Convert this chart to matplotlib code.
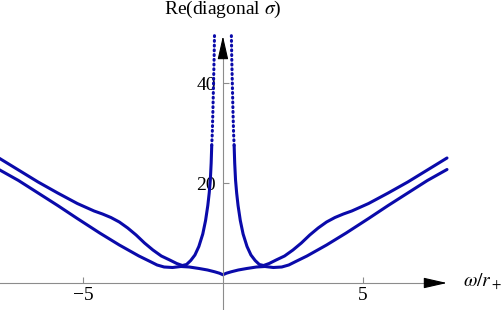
"""
Re(diagonal sigma) versus omega / r_+
"""
import matplotlib
matplotlib.use('Agg')
import matplotlib.pyplot as plt

plt.rcParams['font.family'] = ['Liberation Serif', 'DejaVu Serif']
plt.rcParams['mathtext.fontset'] = 'stix'

# upper curve (with the central peak), left and right branches
a_left_x = [-8.0, -7.3, -6.6, -5.9, -5.2, -4.6, -4.3, -4.0, -3.7, -3.4, -3.1,
            -2.8, -2.5, -2.2, -1.9, -1.65, -1.45, -1.3, -1.15, -1.0, -0.86,
            -0.72, -0.62, -0.54, -0.49, -0.45, -0.42, -0.40]
a_left_y = [25.0, 22.6, 20.2, 18.0, 15.9, 14.4, 13.8, 13.1, 12.2, 11.0, 9.6,
            8.0, 6.6, 5.4, 4.6, 3.9, 3.5, 3.7, 4.5, 5.6, 7.3,
            9.8, 12.5, 15.5, 18.0, 20.6, 24.0, 27.5]
a_right_x = [0.40, 0.42, 0.45, 0.49, 0.54, 0.62, 0.72, 0.86, 1.0, 1.15, 1.3,
             1.45, 1.65, 1.9, 2.2, 2.5, 2.8, 3.1, 3.4, 3.7, 4.0, 4.3, 4.6,
             5.2, 5.9, 6.6, 7.3, 8.0]
a_right_y = [27.5, 24.0, 20.6, 18.0, 15.5, 12.5, 9.8, 7.3, 5.6, 4.5, 3.7,
             3.5, 3.9, 4.6, 5.4, 6.6, 8.0, 9.6, 11.0, 12.2, 13.1, 13.8, 14.4,
             15.9, 18.0, 20.2, 22.6, 25.0]

# top of the peak, sparsely sampled (drawn dotted)
peak_left_x = [-0.40, -0.38, -0.36, -0.335, -0.315, -0.30]
peak_left_y = [27.5, 30.0, 34.0, 40.0, 45.0, 50.0]
peak_right_x = [0.40, 0.38, 0.36, 0.335, 0.315, 0.30]
peak_right_y = [27.5, 30.0, 34.0, 40.0, 45.0, 50.0]

# lower curve
b_x = [-8.0, -7.3, -6.6, -5.9, -5.2, -4.4, -3.7, -3.0, -2.6, -2.35, -2.1,
       -1.8, -1.5, -1.2, -0.85, -0.55, -0.3, -0.12, 0.0,
       0.12, 0.3, 0.55, 0.85, 1.2, 1.5, 1.8, 2.1, 2.35, 2.6, 3.0, 3.7,
       4.4, 5.2, 5.9, 6.6, 7.3, 8.0]
b_y = [22.7, 20.5, 18.0, 15.5, 12.9, 10.0, 7.6, 5.4, 4.3, 3.6, 3.2,
       3.1, 3.3, 3.2, 2.9, 2.6, 2.25, 1.95, 1.65,
       1.95, 2.25, 2.6, 2.9, 3.2, 3.3, 3.1, 3.2, 3.6, 4.3, 5.4, 7.6,
       10.0, 12.9, 15.5, 18.0, 20.5, 22.7]

x_ticks = [-5, 5]
x_tick_labels = ['\u22125', '5']
y_ticks = [20, 40]
y_tick_labels = ['20', '40']

blue = '#0a0aaa'
axis_gray = '#8c8c8c'

fig = plt.figure(figsize=(5.03, 3.10), dpi=100)
ax = fig.add_axes([0, 0, 1, 1])
ax.set_xlim(-7.96, 10.0)
ax.set_ylim(-5.4, 56.6)

ax.plot(a_left_x, a_left_y, color=blue, lw=2.2, solid_capstyle='round')
ax.plot(a_right_x, a_right_y, color=blue, lw=2.2, solid_capstyle='round')
ax.plot(b_x, b_y, color=blue, lw=2.2, solid_capstyle='round')
for px, py in [(peak_left_x, peak_left_y), (peak_right_x, peak_right_y)]:
    ax.plot(px, py, color=blue, lw=2.2, linestyle=(0, (0.3, 1.25)),
            dash_capstyle='round')

# axes through the origin
for side in ['top', 'right']:
    ax.spines[side].set_visible(False)
ax.spines['left'].set_position(('data', 0))
ax.spines['bottom'].set_position(('data', 0))
ax.spines['left'].set_bounds(-5.4, 47.0)
ax.spines['bottom'].set_bounds(-7.96, 7.5)
for side in ['left', 'bottom']:
    ax.spines[side].set_color(axis_gray)
    ax.spines[side].set_linewidth(0.8)

ax.set_xticks(x_ticks)
ax.set_xticklabels(x_tick_labels)
ax.set_yticks(y_ticks)
ax.set_yticklabels(y_tick_labels)
ax.tick_params(direction='in', length=4, width=0.8, color=axis_gray,
               labelsize=14)
ax.tick_params(axis='x', pad=3)
ax.tick_params(axis='y', pad=5)

# arrow heads
head = dict(arrowstyle='-|>,head_length=1.45,head_width=0.33', color='black',
            lw=0.8, shrinkA=0, shrinkB=0, mutation_scale=10)
ax.annotate('', xy=(8.0, 0), xytext=(7.2, 0), arrowprops=head)
ax.annotate('', xy=(0, 49.4), xytext=(0, 45.5), arrowprops=head)

ax.text(0, 53.8, r'Re(diagonal $\sigma$)', ha='center', va='baseline',
        fontsize=14)
ax.text(8.57, -0.8, r'$\omega/r_+$', ha='left', va='baseline', fontsize=14)

fig.savefig('out.png', dpi=100)
